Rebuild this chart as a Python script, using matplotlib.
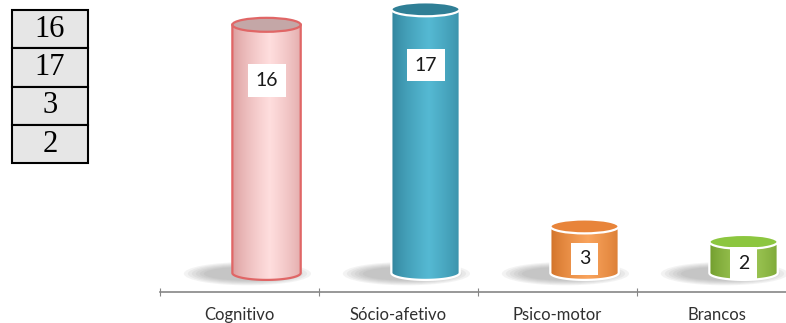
import numpy as np
import matplotlib
matplotlib.use("Agg")
import matplotlib.pyplot as plt
from matplotlib.patches import Ellipse, Rectangle, Polygon
from matplotlib.colors import to_rgb

# ---- data ----
categories = ["Cognitivo", "Sócio-afetivo", "Psico-motor", "Brancos"]
values = [16, 17, 3, 2]
table_values = [16, 17, 3, 2]

# ---- styles ----
dark_cols = ["#d99a9a", "#2f8199", "#cf6f25", "#6e9a2a"]
light_cols = ["#ffdede", "#55b9d3", "#f9a35c", "#a3cc5a"]
top_cols = ["#c4a7a7", "#2f7f96", "#e8843a", "#8cc63f"]
edge_cols = ["#e06666", "white", "white", "white"]

W, H = 786, 323
fig = plt.figure(figsize=(W / 100, H / 100), dpi=100)
ax = fig.add_axes([160 / W, (H - 292) / H, 1 - 160 / W, 292 / H])

bw = 0.43
off = 0.17
eh = 0.9

for i, (v, dc, lc, tc, ec) in enumerate(zip(values, dark_cols, light_cols, top_cols, edge_cols)):
    xc = i + off
    x0, x1 = xc - bw / 2, xc + bw / 2
    # shadow
    for k in range(6):
        ax.add_patch(Ellipse((xc - 0.12, -0.05), 0.55 + 0.05 * k, 0.9 + 0.12 * k,
                             facecolor="#707070", edgecolor="none", alpha=0.08, zorder=1))
    # body gradient
    th = np.linspace(np.pi, 2 * np.pi, 60)
    pts = [(xc + bw / 2 * np.cos(t), eh / 2 * np.sin(t)) for t in th]
    pts += [(x1, v), (x0, v)]
    body = Polygon(pts, closed=True, facecolor="none", edgecolor=ec, lw=1.6, zorder=3)
    ax.add_patch(body)
    n = 100
    tt = np.linspace(0, 1, n)
    f = np.clip(1 - np.abs(tt - 0.55) / 0.55, 0, 1) ** 0.7
    d = np.array(to_rgb(dc)); l = np.array(to_rgb(lc))
    row = d[None, :] + (l - d)[None, :] * f[:, None]
    img = np.repeat(row[None, :, :], 2, axis=0)
    im = ax.imshow(img, extent=[x0, x1, -eh / 2, v], aspect="auto",
                   interpolation="bilinear", zorder=2, origin="lower")
    im.set_clip_path(body)
    # top ellipse
    ax.add_patch(Ellipse((xc, v), bw, eh, facecolor=tc, edgecolor=ec, lw=1.6, zorder=4))
    # value label
    ly = max(v - 3.6, v * 0.3)
    ax.text(xc, ly, str(v), ha="center", va="center", fontsize=14, family="Lato",
            color="#1a1a1a", zorder=5,
            bbox=dict(boxstyle="square,pad=0.4", facecolor="white", edgecolor="none"))

ax.set_xticks([-0.5, 0.5, 1.5, 2.5, 3.5])
ax.set_xticklabels([])
ax.set_xticks(range(len(categories)), minor=True)
ax.set_xticklabels(categories, minor=True, fontsize=12, family="Lato", color="#303030")
ax.tick_params(axis="x", which="major", length=6, direction="inout", color="#868686")
ax.tick_params(axis="x", which="minor", length=0, pad=11)
ax.set_yticks([])
ax.set_xlim(-0.5, -0.5 + 626 / 159)
ax.set_ylim(-1.23, 17.6)
for s in ["top", "right", "left"]:
    ax.spines[s].set_visible(False)
ax.spines["bottom"].set_color("#868686")
ax.spines["bottom"].set_linewidth(1.2)
ax.patch.set_alpha(0)

# ---- left table ----
tx0, tx1 = 12, 88
ty0, rh = 10, 38.3
for j, tv in enumerate(table_values):
    top = ty0 + j * rh
    fig.patches.append(Rectangle((tx0 / W, 1 - (top + rh) / H), (tx1 - tx0) / W, rh / H,
                                 transform=fig.transFigure, facecolor="#e6e6e6",
                                 edgecolor="black", lw=1.5))
    fig.text((tx0 + tx1) / 2 / W, 1 - (top + rh / 2) / H, str(tv), ha="center", va="center",
             fontsize=22, family="Liberation Serif", color="black")

fig.savefig("out.png", dpi=100)
